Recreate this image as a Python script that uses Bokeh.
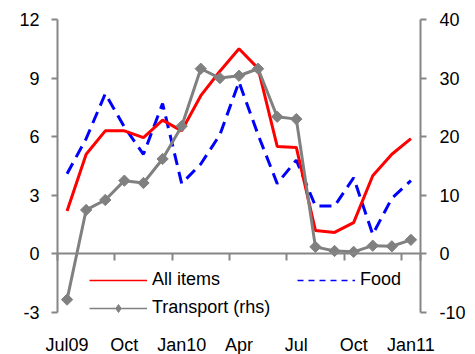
import math
from bokeh.plotting import figure
from bokeh.models import Range1d, LinearAxis, FixedTicker, Legend, LegendItem
from bokeh.embed import file_html
from bokeh.resources import INLINE

# ---- data ----
months = ["Jul09", "Aug", "Sep", "Oct", "Nov", "Dec", "Jan10", "Feb", "Mar", "Apr",
          "May", "Jun", "Jul", "Aug", "Sep", "Oct", "Nov", "Dec", "Jan11"]
all_items = [2.2, 5.1, 6.3, 6.3, 5.95, 6.85, 6.3, 8.1, 9.35, 10.5,
             9.5, 5.5, 5.45, 1.2, 1.1, 1.6, 4.0, 5.1, 5.9]
food = [4.1, 5.9, 8.2, 6.5, 5.1, 7.7, 3.6, 4.6, 6.1, 8.8,
        6.1, 3.6, 4.8, 2.45, 2.45, 3.9, 1.0, 2.85, 3.75]
transport = [-7.8, 7.5, 9.2, 12.5, 12.1, 16.2, 21.8, 31.6, 30.0, 30.4,
             31.6, 23.4, 23.0, 1.2, 0.5, 0.35, 1.4, 1.3, 2.4]
tick_labels = ["Jul09", "Oct", "Jan10", "Apr", "Jul", "Oct", "Jan11"]
left_ticks = [-3, 0, 3, 6, 9, 12]
right_ticks = [-10, 0, 10, 20, 30, 40]

RED = "#FF0000"
BLUE = "#0000FF"
GRAY = "#808080"
AXIS = "#868686"
FONT = "Liberation Sans"
FS = "18px"

# layout (pixels): the frame fills the whole canvas so no text is clipped;
# the axes are drawn at fixed data locations inside it.
W, H = 475, 354
PAD_T, PAD_B, PAD_L, PAD_R = 19, 42, 57, 55
AX_W, AX_H = W - PAD_L - PAD_R, H - PAD_T - PAD_B

n = len(months)
x = list(range(n))
x_lo, x_hi = -0.5, n - 0.5
l_lo, l_hi = left_ticks[0], left_ticks[-1]
r_lo, r_hi = right_ticks[0], right_ticks[-1]
sx = (x_hi - x_lo) / AX_W
sl = (l_hi - l_lo) / AX_H
sr = (r_hi - r_lo) / AX_H

p = figure(width=W, height=H,
           x_range=Range1d(x_lo - PAD_L * sx, x_hi + PAD_R * sx),
           y_range=Range1d(l_lo - PAD_B * sl, l_hi + PAD_T * sl),
           output_backend="svg", toolbar_location=None,
           x_axis_location=None, y_axis_location=None,
           min_border_left=0, min_border_right=0, min_border_top=0, min_border_bottom=0)
p.extra_y_ranges = {"rhs": Range1d(r_lo - PAD_B * sr, r_hi + PAD_T * sr)}
p.grid.visible = False
p.outline_line_color = None
p.background_fill_color = "white"
p.border_fill_color = "white"

def style_axis(ax):
    ax.axis_line_color = AXIS
    ax.axis_line_width = 2
    ax.major_tick_line_color = AXIS
    ax.major_tick_line_width = 2
    ax.minor_tick_line_color = None
    ax.major_label_text_font = FONT
    ax.major_label_text_font_size = FS
    ax.major_label_text_color = "black"

# left axis
ly = LinearAxis(fixed_location=x_lo, ticker=FixedTicker(ticks=left_ticks), bounds=(l_lo, l_hi),
                major_label_overrides={t: str(t) for t in left_ticks})
style_axis(ly)
ly.major_tick_out = 6
ly.major_tick_in = 0
ly.major_label_standoff = 12
p.add_layout(ly, "left")

# right axis
ry = LinearAxis(fixed_location=x_hi, y_range_name="rhs", ticker=FixedTicker(ticks=right_ticks),
                bounds=(r_lo, r_hi), major_label_overrides={t: str(t) for t in right_ticks})
style_axis(ry)
ry.major_tick_out = 6
ry.major_tick_in = 0
ry.major_label_standoff = 13
p.add_layout(ry, "right")

# zero-line axis with boundary ticks (no labels)
bounds = [i - 0.5 for i in range(0, n + 1, 3)] + [x_hi]
zax = LinearAxis(fixed_location=0, ticker=FixedTicker(ticks=bounds), bounds=(x_lo, x_hi),
                 major_label_overrides={b: "" for b in bounds})
style_axis(zax)
zax.major_tick_in = 7
zax.major_tick_out = 0
zax.major_label_standoff = 0
p.add_layout(zax, "above")

# bottom label axis (fixed at the bottom of the left scale)
lab_pos = list(range(0, n, 3))
bax = LinearAxis(fixed_location=l_lo, ticker=FixedTicker(ticks=lab_pos),
                 major_label_overrides={pos: lab for pos, lab in zip(lab_pos, tick_labels)})
style_axis(bax)
bax.axis_line_color = None
bax.major_tick_line_color = None
bax.major_tick_out = 0
bax.major_tick_in = 0
bax.major_label_standoff = 22
p.add_layout(bax, "below")

# series
p.line(x, food, color=BLUE, line_width=3, line_dash="12 7")
p.line(x, all_items, color=RED, line_width=3)
p.line(x, transport, color=GRAY, line_width=3, y_range_name="rhs")
p.scatter(x, transport, marker="square", angle=math.pi / 4, size=8, color=GRAY,
          y_range_name="rhs")

# legend dummies (thin lines as in reference legend); one NaN point so nothing is plotted
nan = [float("nan")]
d_all = p.line(nan, nan, color=RED, line_width=1.5)
d_food = p.line(nan, nan, color=BLUE, line_width=1.5, line_dash="6 5")
d_tr_l = p.line(nan, nan, color=GRAY, line_width=1.5)
d_tr_m = p.scatter(nan, nan, marker="diamond", size=11, color=GRAY)

def mk_legend(items, loc):
    return Legend(items=items, location=loc, orientation="vertical",
                  glyph_width=58, glyph_height=20, label_height=20,
                  label_standoff=5, padding=0, margin=0, spacing=7,
                  border_line_alpha=0, background_fill_alpha=0,
                  label_text_font=FONT, label_text_font_size=FS, label_text_color="black")

leg1 = mk_legend([LegendItem(label="All items", renderers=[d_all]),
                  LegendItem(label="Transport (rhs)", renderers=[d_tr_l, d_tr_m])], (89, 36))
leg2 = mk_legend([LegendItem(label="Food", renderers=[d_food])], (297, 64))
p.add_layout(leg1, "center")
p.add_layout(leg2, "center")

open("out.html", "w").write(file_html(p, INLINE))
